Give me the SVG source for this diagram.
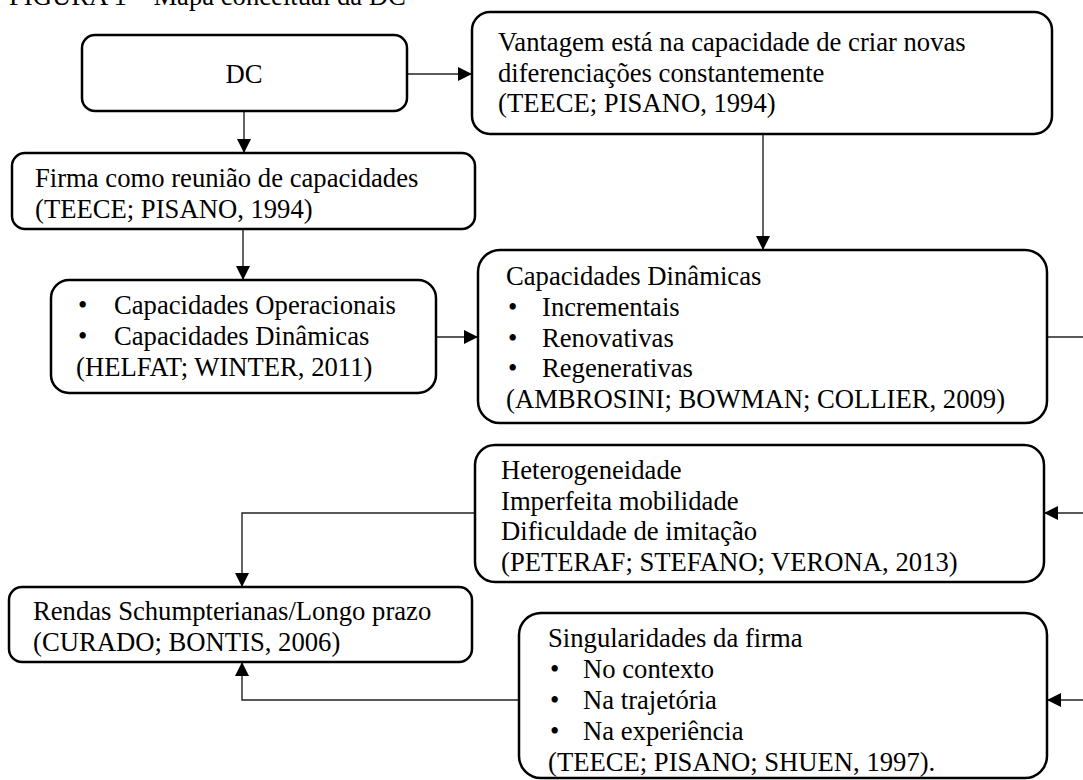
<svg xmlns="http://www.w3.org/2000/svg" width="1083" height="780" viewBox="0 0 1083 780">
<style>
  .box { fill: #ffffff; stroke: #000000; stroke-width: 2.5; }
  .t { font-family: "Liberation Serif", "Times New Roman", serif; font-size: 26.67px; fill: #000000; }
  .c { fill: none; stroke: #222222; stroke-width: 1.4; }
</style>
<defs>
  <marker id="arr" viewBox="0 0 14 14" refX="14" refY="7" markerWidth="14" markerHeight="14" markerUnits="userSpaceOnUse" orient="auto">
    <path d="M0,0 L14,7 L0,14 Z" fill="#000000"/>
  </marker>
</defs>
<rect width="1083" height="780" fill="#ffffff"/>
<text class="t" x="9" y="5">FIGURA 1 – Mapa conceitual da DC</text>

<g id="connectors">
  <line class="c" x1="407" y1="74" x2="472" y2="74" marker-end="url(#arr)"/>
  <line class="c" x1="244" y1="111" x2="244" y2="153" marker-end="url(#arr)"/>
  <line class="c" x1="763" y1="134" x2="763" y2="250" marker-end="url(#arr)"/>
  <line class="c" x1="243" y1="229" x2="243" y2="280" marker-end="url(#arr)"/>
  <line class="c" x1="436" y1="337" x2="478" y2="337" marker-end="url(#arr)"/>
  <line class="c" x1="1047" y1="337" x2="1083" y2="337"/>
  <line class="c" x1="1083" y1="513" x2="1044" y2="513" marker-end="url(#arr)"/>
  <line class="c" x1="1083" y1="700" x2="1047" y2="700" marker-end="url(#arr)"/>
  <polyline class="c" points="475,513 242,513 242,587" marker-end="url(#arr)"/>
  <polyline class="c" points="519,700 242,700 242,662" marker-end="url(#arr)"/>
</g>

<g id="node-dc">
  <rect class="box" x="82" y="35" width="325" height="76" rx="13"/>
  <text class="t" x="244" y="83" text-anchor="middle">DC</text>
</g>

<g id="node-vantagem">
  <rect class="box" x="472" y="12" width="580" height="122" rx="18"/>
  <text class="t" x="498" y="51">Vantagem está na capacidade de criar novas</text>
  <text class="t" x="498" y="82">diferenciações constantemente</text>
  <text class="t" x="498" y="112">(TEECE; PISANO, 1994)</text>
</g>

<g id="node-firma">
  <rect class="box" x="12" y="153" width="463" height="76" rx="13"/>
  <text class="t" x="35" y="187">Firma como reunião de capacidades</text>
  <text class="t" x="35" y="218">(TEECE; PISANO, 1994)</text>
</g>

<g id="node-helfat">
  <rect class="box" x="51" y="280" width="385" height="113" rx="18"/>
  <text class="t" x="78" y="314">•</text>
  <text class="t" x="114" y="314">Capacidades Operacionais</text>
  <text class="t" x="78" y="345">•</text>
  <text class="t" x="114" y="345">Capacidades Dinâmicas</text>
  <text class="t" x="76" y="376">(HELFAT; WINTER, 2011)</text>
</g>

<g id="node-capdin">
  <rect class="box" x="478" y="250" width="569" height="173" rx="22"/>
  <text class="t" x="506" y="285">Capacidades Dinâmicas</text>
  <text class="t" x="508" y="316">•</text>
  <text class="t" x="542" y="316">Incrementais</text>
  <text class="t" x="508" y="347">•</text>
  <text class="t" x="542" y="347">Renovativas</text>
  <text class="t" x="508" y="377">•</text>
  <text class="t" x="542" y="377">Regenerativas</text>
  <text class="t" x="506" y="408">(AMBROSINI; BOWMAN; COLLIER, 2009)</text>
</g>

<g id="node-heterog">
  <rect class="box" x="475" y="445" width="569" height="137" rx="20"/>
  <text class="t" x="501" y="479">Heterogeneidade</text>
  <text class="t" x="501" y="510">Imperfeita mobilidade</text>
  <text class="t" x="501" y="540">Dificuldade de imitação</text>
  <text class="t" x="501" y="571">(PETERAF; STEFANO; VERONA, 2013)</text>
</g>

<g id="node-rendas">
  <rect class="box" x="9" y="587" width="463" height="75" rx="13"/>
  <text class="t" x="33" y="620">Rendas Schumpterianas/Longo prazo</text>
  <text class="t" x="33" y="651">(CURADO; BONTIS, 2006)</text>
</g>

<g id="node-singular">
  <rect class="box" x="519" y="613" width="528" height="165" rx="22"/>
  <text class="t" x="548" y="647">Singularidades da firma</text>
  <text class="t" x="550" y="678">•</text>
  <text class="t" x="583" y="678">No contexto</text>
  <text class="t" x="550" y="709">•</text>
  <text class="t" x="583" y="709">Na trajetória</text>
  <text class="t" x="550" y="740">•</text>
  <text class="t" x="583" y="740">Na experiência</text>
  <text class="t" x="548" y="771">(TEECE; PISANO; SHUEN, 1997).</text>
</g>
</svg>
